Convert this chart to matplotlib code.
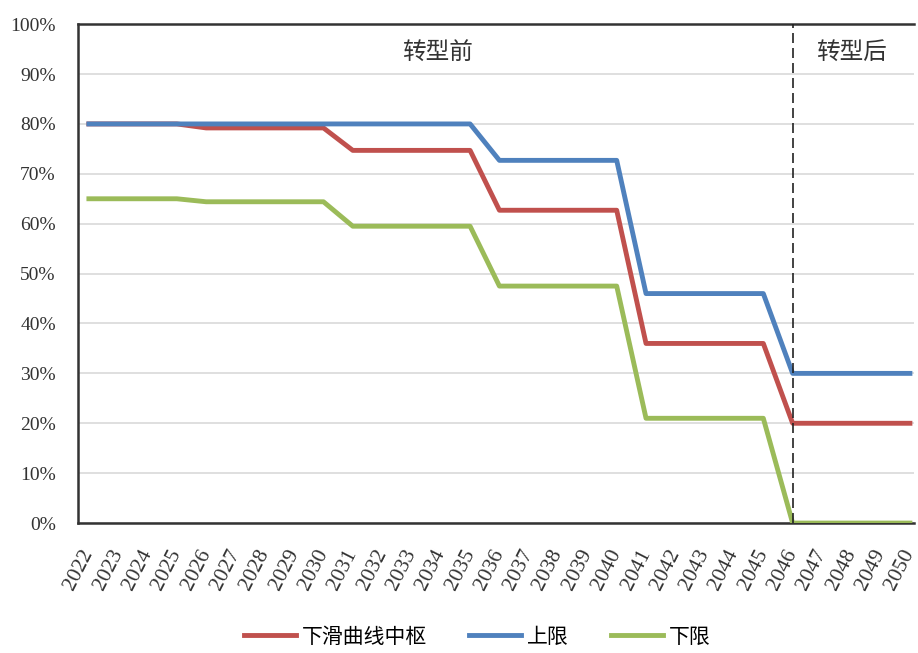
import matplotlib.pyplot as plt
import numpy as np

plt.rcParams['font.family'] = ['Liberation Serif', 'Noto Sans CJK SC', 'DejaVu Sans']
cjk = ['Noto Sans CJK SC', 'DejaVu Sans']

years = [str(y) for y in range(2022, 2051)]
# 下滑曲线中枢
mid = [80, 80, 80, 80, 79.2, 79.2, 79.2, 79.2, 79.2,
       74.7, 74.7, 74.7, 74.7, 74.7,
       62.7, 62.7, 62.7, 62.7, 62.7,
       36, 36, 36, 36, 36,
       20, 20, 20, 20, 20]
# 上限
upper = [80, 80, 80, 80, 80, 80, 80, 80, 80,
         80, 80, 80, 80, 80,
         72.7, 72.7, 72.7, 72.7, 72.7,
         46, 46, 46, 46, 46,
         30, 30, 30, 30, 30]
# 下限
lower = [65, 65, 65, 65, 64.4, 64.4, 64.4, 64.4, 64.4,
         59.5, 59.5, 59.5, 59.5, 59.5,
         47.5, 47.5, 47.5, 47.5, 47.5,
         21, 21, 21, 21, 21,
         0, 0, 0, 0, 0]
split_year = '2046'

fig = plt.figure(figsize=(9.18, 6.53), dpi=100)
ax = fig.add_axes([0.085, 0.199, 0.911, 0.764])

x = np.arange(len(years))
ax.plot(x, mid, color='#C0504D', lw=3.5, label='下滑曲线中枢', zorder=3)
ax.plot(x, upper, color='#4F81BD', lw=3.5, label='上限', zorder=3)
ax.plot(x, lower, color='#9BBB59', lw=3.5, label='下限', zorder=3)

xs = years.index(split_year)
ax.axvline(xs, color='#222222', lw=1.2, ls=(0, (6, 3)), zorder=4)
ax.text(11.9, 94.3, '转型前', fontsize=17, ha='center', va='center',
        color='#333333', family=cjk)
ax.text(26.0, 94.3, '转型后', fontsize=17, ha='center', va='center',
        color='#333333', family=cjk)

ax.set_xlim(-0.37, 28.15)
ax.set_ylim(0, 100)
ax.set_yticks(range(0, 101, 10))
ax.set_yticklabels([f'{v}%' for v in range(0, 101, 10)], fontsize=14, color='#333333')
ax.set_xticks(x)
ax.set_xticklabels(years, rotation=63, ha='right', va='center', rotation_mode='anchor',
                   fontsize=15.5, color='#333333')
ax.tick_params(axis='y', length=0, pad=16)
ax.tick_params(axis='x', length=0, pad=20)
ax.grid(axis='y', color='#D9D9D9', lw=1.2)
ax.set_axisbelow(True)
for s in ['top', 'left', 'bottom']:
    ax.spines[s].set_color('#333333')
    ax.spines[s].set_linewidth(1.8)
ax.spines['right'].set_visible(False)

fig.legend(loc='center', bbox_to_anchor=(0.52, 0.025), ncol=3, frameon=False,
           prop={'family': cjk, 'size': 15}, handlelength=2.5, columnspacing=2.0,
           handletextpad=0.3)

fig.savefig('out.png', dpi=100)
